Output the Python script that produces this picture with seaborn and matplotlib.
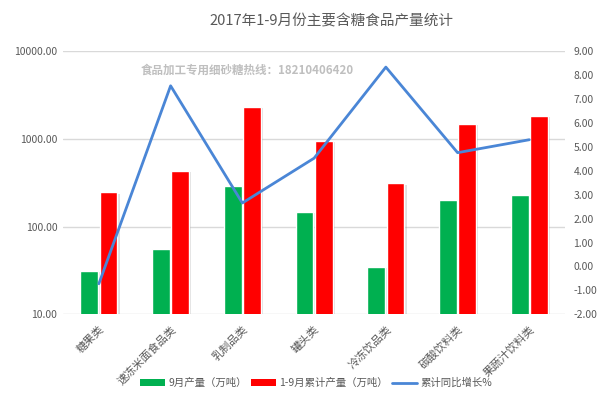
import numpy as np
import pandas as pd
import matplotlib
matplotlib.use("Agg")
import matplotlib.pyplot as plt
import matplotlib.patheffects as pe
from matplotlib.patches import Patch
from matplotlib.lines import Line2D
from matplotlib.ticker import FixedLocator, FuncFormatter, NullLocator
import seaborn as sns

categories = ["糖果类", "速冻米面食品类", "乳制品类", "罐头类", "冷冻饮品类", "碳酸饮料类", "果蔬汁饮料类"]
sep_output = [31.5, 55, 292, 147, 35, 203, 227]          # 9月产量（万吨）
ytd_output = [245, 430, 2290, 940, 310, 1480, 1830]      # 1-9月累计产量（万吨）
ytd_growth = [-0.72, 7.54, 2.65, 4.52, 8.32, 4.75, 5.29]  # 累计同比增长%

series_names = ["9月产量（万吨）", "1-9月累计产量（万吨）"]
legend_line = "累计同比增长%"
title = "2017年1-9月份主要含糖食品产量统计"
watermark = "食品加工专用细砂糖热线：18210406420"
left_ticks = [10, 100, 1000, 10000]
right_ticks = list(range(-2, 10))

sns.set_theme(style="white")
plt.rcParams["font.family"] = ["Noto Sans CJK SC", "DejaVu Sans"]

GREEN = "#00B050"
RED = "#FF0000"
BLUE = "#4A86D6"
TXT = "#595959"

df = pd.DataFrame({
    "cat": categories * 2,
    "val": sep_output + ytd_output,
    "series": [series_names[0]] * len(categories) + [series_names[1]] * len(categories),
})

fig = plt.figure(figsize=(6.0, 3.97), dpi=100)
ax = fig.add_axes([0.105, 0.208, 0.837, 0.664])

sns.barplot(data=df, x="cat", y="val", hue="series", order=categories,
            hue_order=series_names, palette=[GREEN, RED], width=0.54, gap=0.08,
            ax=ax, legend=False, saturation=1, errorbar=None)
ax.set_yscale("log")
ax.set_ylim(10, 10000)
for p in ax.patches:
    p.set_path_effects([pe.SimplePatchShadow(offset=(1.5, -1), alpha=0.25, shadow_rgbFace="#808080"), pe.Normal()])

ax.yaxis.set_major_locator(FixedLocator(left_ticks))
ax.yaxis.set_minor_locator(NullLocator())
ax.yaxis.set_major_formatter(FuncFormatter(lambda v, p: f"{v:.2f}"))
ax.grid(axis="y", color="#D9D9D9", lw=1)
ax.set_axisbelow(True)
ax.set_xlabel("")
ax.set_ylabel("")
for s in ax.spines.values():
    s.set_visible(False)
ax.tick_params(axis="y", length=0, labelsize=7.5, labelcolor=TXT, pad=4)
ax.tick_params(axis="x", length=0, labelsize=8, labelcolor=TXT, pad=7)
plt.setp(ax.get_xticklabels(), rotation=45, ha="right", rotation_mode="anchor")

ax2 = ax.twinx()
sns.lineplot(x=np.arange(len(categories)), y=ytd_growth, ax=ax2, color=BLUE, lw=2)
ax2.set_ylim(-2, 9)
ax2.yaxis.set_major_locator(FixedLocator(right_ticks))
ax2.yaxis.set_major_formatter(FuncFormatter(lambda v, p: f"{v:.2f}"))
ax2.tick_params(axis="y", length=0, labelsize=7.5, labelcolor=TXT, pad=6)
ax2.grid(False)
for s in ax2.spines.values():
    s.set_visible(False)
ax.set_xlim(-0.5, len(categories) - 0.5)

fig.text(0.553, 0.945, title, ha="center", va="center", fontsize=10.5, color=TXT)
fig.text(0.235, 0.824, watermark, ha="left", va="center", fontsize=8.3,
         color="#BFBFBF", fontweight="bold")

handles = [Patch(facecolor=GREEN, edgecolor="none"), Patch(facecolor=RED, edgecolor="none"),
           Line2D([0], [0], color=BLUE, lw=2)]
fig.legend(handles, series_names + [legend_line], loc="center", bbox_to_anchor=(0.527, 0.035),
           ncol=3, frameon=False, fontsize=7.5, handlelength=2.4, handleheight=0.6,
           columnspacing=0.4, handletextpad=0.3, labelcolor=TXT)

fig.savefig("out.png", dpi=100)
